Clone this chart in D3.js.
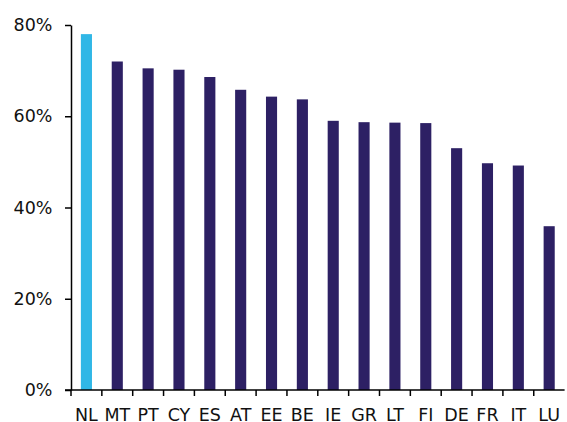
<!DOCTYPE html>
<html><head><meta charset="utf-8">
<script src="https://cdn.jsdelivr.net/npm/d3@7"></script>
<style>body{margin:0;background:#fff}svg{display:block}</style>
</head><body>
<svg id="c" width="567" height="422"></svg>
<script>
const categories = ["NL","MT","PT","CY","ES","AT","EE","BE","IE","GR","LT","FI","DE","FR","IT","LU"];
const values = [78.0,72.0,70.5,70.2,68.6,65.8,64.3,63.7,59.0,58.7,58.6,58.5,53.0,49.7,49.2,35.9];
const yTicks = [0,20,40,60,80];
const highlight = "NL";

const svg = d3.select("#c");
const x = d3.scaleBand().domain(categories).range([71, 564.6]).paddingInner(0.64).paddingOuter(0.32);
const xb = d3.scaleBand().domain(categories).range([71, 564.6]);
const y = d3.scaleLinear().domain([0, 80]).range([390, 25]);

svg.append("g").selectAll("rect").data(categories).join("rect")
  .attr("x", d => x(d)).attr("width", x.bandwidth())
  .attr("y", (d,i) => y(values[i])).attr("height", (d,i) => y(0) - y(values[i]))
  .attr("fill", d => d === highlight ? "#30b7e6" : "#2d2064");

const font = "DejaVu Sans, Verdana, sans-serif";
const ya = svg.append("g").attr("transform","translate(71,0)")
  .call(d3.axisLeft(y).tickValues(yTicks).tickFormat(d => d + "%").tickSize(6).tickSizeOuter(0).tickPadding(12.5));
ya.selectAll("text").attr("font-family", font).attr("font-size", 17.5).attr("fill","#111");
ya.selectAll("line,path").attr("stroke","#000").attr("stroke-width",1.5);

const xa = svg.append("g").attr("transform","translate(0,390)");
xa.append("line").attr("x1",65).attr("x2",564.6).attr("y1",0).attr("y2",0).attr("stroke","#000").attr("stroke-width",1.5);
xa.selectAll("line.t").data(categories).join("line").attr("class","t")
  .attr("x1", d => xb(d)).attr("x2", d => xb(d)).attr("y1",0).attr("y2",6)
  .attr("stroke","#000").attr("stroke-width",1.5);
xa.selectAll("text").data(categories).join("text")
  .attr("x", d => xb(d) + xb.bandwidth()/2).attr("y", 30.5)
  .attr("text-anchor","middle").attr("font-family", font).attr("font-size", 17.5).attr("fill","#111")
  .text(d => d);
</script>
</body></html>
